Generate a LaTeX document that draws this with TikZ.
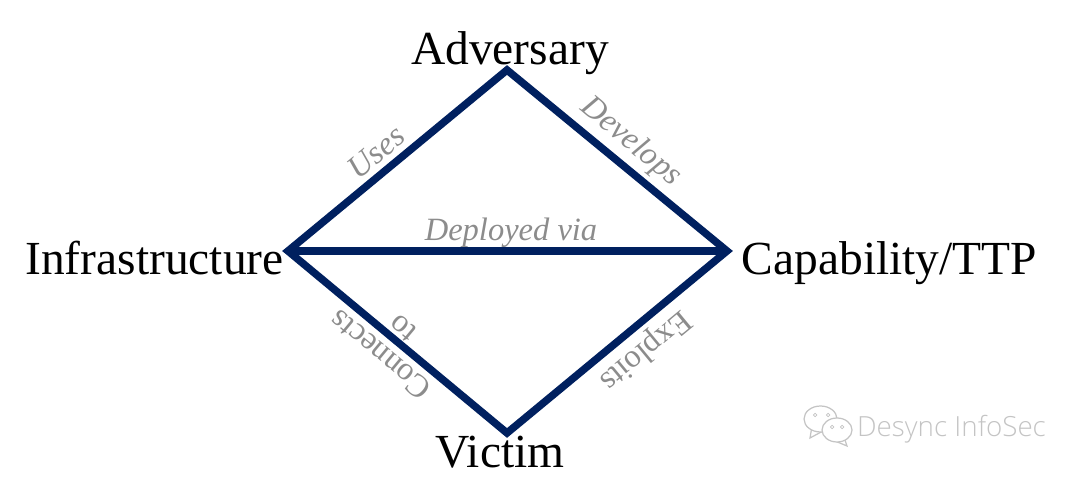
\documentclass[tikz,border=0pt]{standalone}
\usepackage{fontspec}
\setmainfont{Liberation Serif}
\newfontfamily\markfont{Open Sans Light}
\definecolor{diamondblue}{HTML}{00205F}
\definecolor{labelgray}{HTML}{8C8C8C}
\definecolor{markgray}{HTML}{C4C4C4}
\tikzset{
	corner/.style={font=\fontsize{27}{32}\selectfont, text=black, inner sep=0pt, anchor=base},
	edgelabel/.style={font=\fontsize{18.5}{22}\selectfont\itshape, text=labelgray, inner sep=0pt},
	flippedlabel/.style={font=\fontsize{18.5}{22}\selectfont, text=labelgray, inner sep=0pt},
	edgeline/.style={draw=diamondblue, line width=0.15cm, line join=miter},
	bubble/.style={draw=markgray, fill=white, line width=0.7pt}
}
\begin{document}
\begin{tikzpicture}
	\useasboundingbox (0,0) rectangle (21.6,9.56);
	\coordinate (top)    at (10.14,8.16);
	\coordinate (left)   at (5.76,4.54);
	\coordinate (right)  at (14.54,4.54);
	\coordinate (bottom) at (10.14,0.90);
	\draw[edgeline] (top) -- (right) -- (bottom) -- (left) -- cycle;
	\draw[edgeline] (left) -- (right);
	\node (adversary) at (10.20,8.26) [corner] {Adversary};
	\node (infra)     at (3.09,4.07)  [corner] {Infrastructure};
	\node (capab)     at (17.79,4.07) [corner] {Capability/TTP};
	\node (victim)    at (10.00,0.20) [corner] {Victim};
	\node (uses)      at (7.52,6.52)  [edgelabel, rotate=39.6]  {Uses};
	\node (develops)  at (12.62,6.72) [edgelabel, rotate=-39.7] {Develops};
	\node (deployed)  at (10.22,4.90) [edgelabel] {Deployed via};
	\node (connects)  at (7.60,2.46)  [flippedlabel, rotate=140.3] {Connects};
	\node (to)        at (8.06,3.00)  [flippedlabel, rotate=140.3] {to};
	\node (exploits)  at (12.90,2.56) [flippedlabel, rotate=219.6] {Exploits};
	% watermark
	\draw[bubble] (16.24,1.04) -- (16.20,0.80) -- (16.46,0.94);
	\draw[bubble] (16.41,1.18) ellipse (0.33 and 0.26);
	\draw[bubble] (16.88,0.82) -- (16.94,0.64) -- (16.70,0.74);
	\draw[bubble] (16.74,0.96) ellipse (0.30 and 0.24);
	\foreach \px/\py in {16.30/1.26, 16.56/1.26, 16.64/1.02, 16.84/1.02} {
		\draw[markgray, line width=0.4pt] (\px,\py) circle (0.035);
	}
	\node (mark) at (19.03,0.98) [font=\markfont\fontsize{15.8}{18}\selectfont, text=markgray, inner sep=0pt] {Desync InfoSec};
\end{tikzpicture}
\end{document}
